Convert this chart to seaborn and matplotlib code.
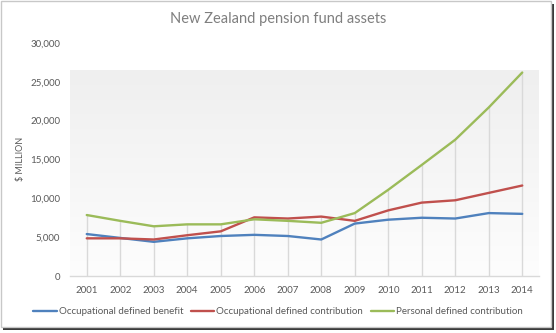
import numpy as np
import pandas as pd
import matplotlib
matplotlib.use("Agg")
import matplotlib.pyplot as plt
from matplotlib.colors import LinearSegmentedColormap
from matplotlib.patches import Rectangle
import seaborn as sns

years = [str(y) for y in range(2001, 2015)]
occupational_db = [5400, 4900, 4400, 4850, 5150, 5300, 5150, 4700, 6750, 7250, 7500, 7400, 8100, 8000]
occupational_dc = [4850, 4850, 4700, 5250, 5750, 7550, 7400, 7650, 7100, 8450, 9450, 9750, 10700, 11650]
personal_dc = [7850, 7100, 6400, 6650, 6650, 7300, 7100, 6850, 8100, 11100, 14300, 17550, 21700, 26200]
series_names = ["Occupational defined benefit", "Occupational defined contribution",
                "Personal defined contribution"]
series_colors = ["#4F81BD", "#C0504D", "#9BBB59"]
y_ticks = [0, 5000, 10000, 15000, 20000, 25000, 30000]

sns.set_theme(style="white")
plt.rcParams["font.family"] = ["Lato", "DejaVu Sans"]

df = pd.DataFrame({
    "year": years * 3,
    "idx": list(range(len(years))) * 3,
    "value": occupational_db + occupational_dc + personal_dc,
    "series": sum([[n] * len(years) for n in series_names], []),
})

W, H = 556, 333
fig = plt.figure(figsize=(W / 100, H / 100), dpi=100)
fig.patch.set_facecolor("white")

# chart frame with a drop shadow
fig.patches.append(Rectangle((3 / W, 3 / H), 551 / W, (H - 7) / H, transform=fig.transFigure,
                             facecolor="#3a3a3a", edgecolor="none", zorder=-3))
fig.patches.append(Rectangle((0.5 / W, 6 / H), 550 / W, (H - 7) / H, transform=fig.transFigure,
                             facecolor="white", edgecolor="#c8c8c8", linewidth=1.0, zorder=-2))

ax = fig.add_axes([70 / W, 1 - 276 / H, 469 / W, 233 / H])
ax.set_facecolor("none")

# plot-area gradient fill
cmap = LinearSegmentedColormap.from_list("plotfill", ["#fdfdfd", "#efefef"])
grad = np.linspace(0, 1, 256).reshape(-1, 1)
ax.imshow(grad, cmap=cmap, aspect="auto", extent=(-0.5, len(years) - 0.5, 26500, 0),
          origin="upper", zorder=0)
ax.set_xlim(-0.5, len(years) - 0.5)
ax.set_ylim(0, 30000)

# drop lines from the highest series down to the axis
tops = np.max(np.array([occupational_db, occupational_dc, personal_dc]), axis=0)
ax.vlines(range(len(years)), 0, tops, color="#d9d9d9", linewidth=1.0, zorder=1)

sns.lineplot(data=df, x="idx", y="value", hue="series", hue_order=series_names,
             palette=series_colors, linewidth=1.7, ax=ax, zorder=3, legend=False)

ax.set_xticks(range(len(years)))
ax.set_xticklabels(years)
ax.set_yticks(y_ticks)
ax.set_yticklabels([f"{v:,}" for v in y_ticks])
ax.tick_params(axis="both", length=0, labelsize=7, labelcolor="#595959")
ax.tick_params(axis="x", pad=7)
ax.tick_params(axis="y", pad=7)
ax.set_xlabel("")
ax.set_ylabel("")
for side in ["top", "right", "left"]:
    ax.spines[side].set_visible(False)
ax.spines["bottom"].set_color("#d9d9d9")
ax.spines["bottom"].set_linewidth(1.0)

fig.text(20 / W, 1 - 159 / H, "$ MILLION", rotation=90, ha="center", va="center",
         fontsize=6.5, color="#595959")
fig.text(0.5, 1 - 19 / H, "New Zealand pension fund assets", ha="center", va="center",
         fontsize=10.5, color="#7f7f7f")

handles = [plt.Line2D([], [], color=c, linewidth=1.7) for c in series_colors]
fig.legend(handles, series_names, loc="center", bbox_to_anchor=(0.5, 1 - 312 / H),
           ncol=3, frameon=False, fontsize=7, labelcolor="#595959",
           handlelength=2.4, handletextpad=0.2, columnspacing=0.8)

fig.savefig("out.png", dpi=100, facecolor="white")
